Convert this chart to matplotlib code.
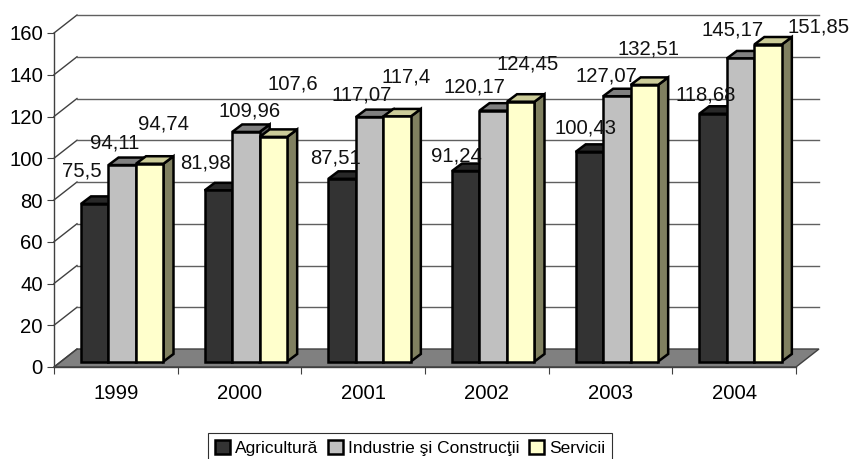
import numpy as np
import matplotlib
matplotlib.use('Agg')
import matplotlib.pyplot as plt
from matplotlib.patches import Polygon, Patch

plt.rcParams['font.family'] = ['Liberation Sans', 'DejaVu Sans']

years = ['1999', '2000', '2001', '2002', '2003', '2004']
agricultura = [75.5, 81.98, 87.51, 91.24, 100.43, 118.68]
industrie = [94.11, 109.96, 117.07, 120.17, 127.07, 145.17]
servicii = [94.74, 107.6, 117.4, 124.45, 132.51, 151.85]
series_names = ['Agricultură', 'Industrie şi Construcţii', 'Servicii']
label_texts = [
    ['75,5', '81,98', '87,51', '91,24', '100,43', '118,68'],
    ['94,11', '109,96', '117,07', '120,17', '127,07', '145,17'],
    ['94,74', '107,6', '117,4', '124,45', '132,51', '151,85'],
]
y_ticks = [0, 20, 40, 60, 80, 100, 120, 140, 160]

# px positions of the labels (center x, center y)
label_pos = [
    [(82, 171), (206, 163), (336, 158), (456, 156), (586, 128), (706, 95)],
    [(115, 143), (250, 111), (362, 95), (474, 87), (606, 76), (733, 30)],
    [(164, 124), (293, 84), (406, 77), (528, 64), (649, 49), (819, 27)],
]

colors = ['#333333', '#C0C0C0', '#FFFFCC']
top_colors = ['#282828', '#808080', '#CCCC99']
side_colors = ['#222222', '#606060', '#808060']

W, H = 853, 459
fig = plt.figure(figsize=(W / 100, H / 100), dpi=100)
left, right, bottom, top = 54, 796, 367, 33
ax = fig.add_axes([left / W, 1 - bottom / H, (right - left) / W, (bottom - top) / H])
ax.set_xlim(0, 6)
ax.set_ylim(0, 160)

px_x = 6 / (right - left)
px_y = 160 / (bottom - top)
dx, dy = 23 * px_x, 18 * px_y  # depth of the box
bx, by = 10 * px_x, 7.5 * px_y  # depth of a bar
base = 5.5 * px_y
bar_w = 27.5 * px_x
start = (81 - left) * px_x

# floor and walls
ax.add_patch(Polygon([(0, 0), (dx, dy), (6 + dx, dy), (6, 0)], closed=True,
                     facecolor='#808080', edgecolor='#404040', lw=1, clip_on=False, zorder=1))
for v in y_ticks:
    ax.plot([0, dx], [v, v + dy], color='#404040', lw=1, clip_on=False, zorder=1)
    if v > 0:
        ax.plot([dx, 6 + dx], [v + dy, v + dy], color='#606060', lw=1, clip_on=False, zorder=1)

for s, vals in enumerate([agricultura, industrie, servicii]):
    for i, v in enumerate(vals):
        x0 = start + i + s * bar_w
        x1 = x0 + bar_w
        y1 = base + v
        ax.add_patch(Polygon([(x1, base), (x1 + bx, base + by), (x1 + bx, y1 + by), (x1, y1)], closed=True,
                             facecolor=side_colors[s], edgecolor='black', lw=1.8, clip_on=False, zorder=3 + s))
        ax.add_patch(Polygon([(x0, y1), (x0 + bx, y1 + by), (x1 + bx, y1 + by), (x1, y1)], closed=True,
                             facecolor=top_colors[s], edgecolor='black', lw=1.8, clip_on=False, zorder=3 + s))
        ax.bar(x0, v, width=bar_w, bottom=base, align='edge', color=colors[s], edgecolor='black',
               linewidth=1.8, clip_on=False, zorder=3 + s)

for s in range(3):
    for i in range(6):
        px, py = label_pos[s][i]
        fig.text(px / W, 1 - py / H, label_texts[s][i], fontsize=14.6, color='#111111',
                 ha='center', va='center', zorder=10)

for name in ['top', 'right']:
    ax.spines[name].set_visible(False)
for name in ['left', 'bottom']:
    ax.spines[name].set_color('#404040')
    ax.spines[name].set_linewidth(1)
    ax.spines[name].set_zorder(2)
ax.patch.set_visible(False)

ax.set_yticks(y_ticks)
ax.set_xticks(range(7))
ax.set_xticklabels([])
ax.set_xticks(np.arange(6) + 0.5, labels=years, minor=True)
ax.tick_params(axis='x', which='major', length=5, color='#404040')
ax.tick_params(axis='x', which='minor', length=0, pad=12.5, labelsize=14.6)
ax.tick_params(axis='y', length=5, color='#404040', pad=3, labelsize=14.6)

handles = [Patch(facecolor=c, edgecolor='black', linewidth=1.8) for c in colors]
leg = fig.legend(handles, series_names, loc='lower left', bbox_to_anchor=(208 / W, -4.5 / H),
                 bbox_transform=fig.transFigure, ncol=3, fontsize=12.5, fancybox=False, framealpha=1,
                 edgecolor='#303030', borderaxespad=0, handlelength=0.85, handleheight=0.85,
                 handletextpad=0.3, columnspacing=0.55, borderpad=0.42)
leg.get_frame().set_linewidth(0.8)

fig.savefig('out.png', dpi=100)
